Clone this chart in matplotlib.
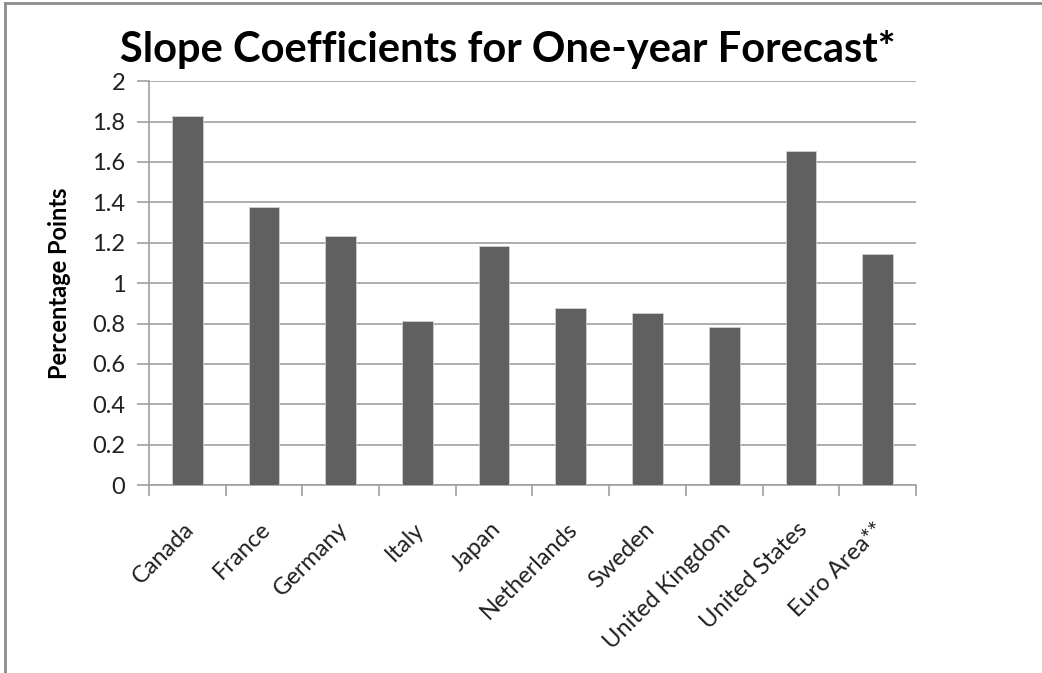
import numpy as np
import matplotlib.pyplot as plt
from matplotlib.lines import Line2D

countries = ['Canada', 'France', 'Germany', 'Italy', 'Japan', 'Netherlands',
             'Sweden', 'United Kingdom', 'United States', 'Euro Area**']
slopes = [1.83, 1.375, 1.235, 0.81, 1.185, 0.877, 0.852, 0.783, 1.655, 1.145]
yticks = [0, 0.2, 0.4, 0.6, 0.8, 1, 1.2, 1.4, 1.6, 1.8, 2]
ytick_labels = ['0', '0.2', '0.4', '0.6', '0.8', '1', '1.2', '1.4', '1.6', '1.8', '2']

plt.rcParams['font.family'] = ['Lato', 'DejaVu Sans']

fig = plt.figure(figsize=(10.42, 6.73), dpi=100)
ax = fig.add_axes([0.143, 0.2793, 0.736, 0.6])

x = np.arange(len(countries))
ax.bar(x, slopes, width=0.4, color='#606060', edgecolor='#d0d0d0', linewidth=0.6, zorder=3)

ax.set_xlim(-0.5, len(countries) - 0.5)
ax.set_ylim(0, 2)
ax.set_yticks(yticks)
ax.set_yticklabels(ytick_labels, fontsize=17, color='#202020')
ax.yaxis.grid(True, color='#a0a0a0', linewidth=1.2, zorder=0)

# category boundary ticks on x axis
ax.set_xticks(np.arange(len(countries) + 1) - 0.5)
ax.set_xticklabels([])
ax.tick_params(axis='x', length=8, color='#a0a0a0', width=1.2, direction='out')
ax.tick_params(axis='y', length=9, color='#a0a0a0', width=1.2, direction='out', pad=8)
for i, name in enumerate(countries):
    ax.annotate(name, xy=(i, 0), xycoords=('data', 'axes fraction'),
                xytext=(-3, -24), textcoords='offset points',
                rotation=45, ha='right', va='top', rotation_mode='anchor',
                fontsize=17, color='#202020')

for side in ['top', 'right']:
    ax.spines[side].set_visible(False)
for side in ['left', 'bottom']:
    ax.spines[side].set_color('#a0a0a0')
    ax.spines[side].set_linewidth(1.2)

ax.set_ylabel('Percentage Points', fontsize=17, fontweight='bold', labelpad=15)
fig.text(0.487, 0.926, 'Slope Coefficients for One-year Forecast*', ha='center', va='center',
         fontsize=30, fontweight='bold')

# chart frame
fig.add_artist(Line2D([0.005, 0.005], [0, 0.995], color='#8c8c8c', linewidth=2, transform=fig.transFigure))
fig.add_artist(Line2D([0.005, 1.0], [0.995, 0.995], color='#8c8c8c', linewidth=2, transform=fig.transFigure))

fig.savefig('out.png', dpi=100)
